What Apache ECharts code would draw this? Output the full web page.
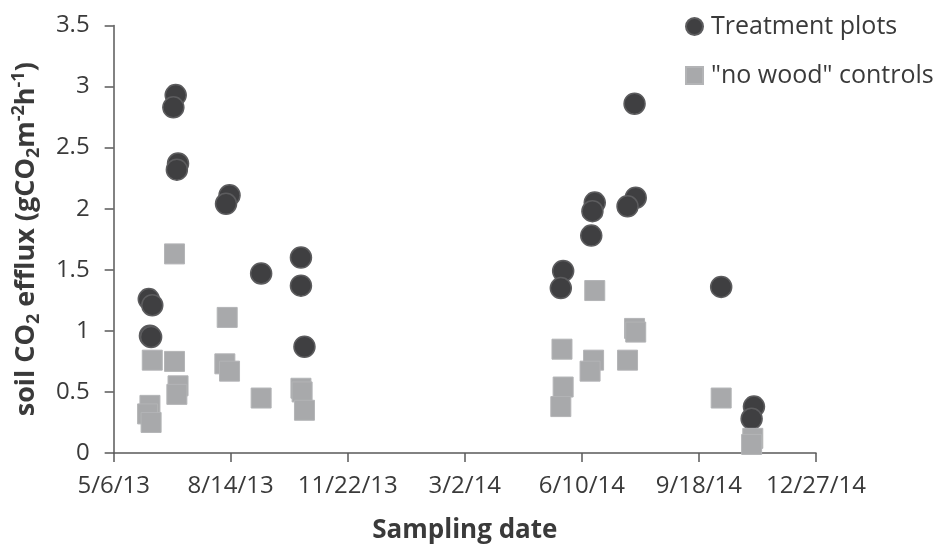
<!DOCTYPE html>
<html>
<head>
<meta charset="utf-8">
<script src="https://cdn.jsdelivr.net/npm/echarts@6/dist/echarts.min.js"></script>
<style>
  html, body { margin: 0; padding: 0; background: #ffffff; }
  #chart { width: 944px; height: 552px; }
</style>
</head>
<body>
<div id="chart"></div>
<script>
// ---- data ----
const xTickLabels = ['5/6/13', '8/14/13', '11/22/13', '3/2/14', '6/10/14', '9/18/14', '12/27/14'];

const treatmentDates = [
  '2013-06-28', '2013-06-26', '2013-06-30', '2013-06-29', '2013-08-13', '2013-08-10',
  '2013-06-05', '2013-06-08', '2013-06-06', '2013-06-07', '2013-09-09', '2013-10-13',
  '2013-10-13', '2013-10-16', '2014-07-25', '2014-06-21', '2014-06-19', '2014-07-26',
  '2014-07-19', '2014-06-18', '2014-05-25', '2014-05-23', '2014-10-07', '2014-11-04',
  '2014-11-02'
];
const treatmentValues = [
  2.93, 2.83, 2.37, 2.32, 2.11, 2.04,
  1.26, 1.21, 0.96, 0.95, 1.47, 1.60,
  1.37, 0.87, 2.86, 2.05, 1.98, 2.09,
  2.02, 1.78, 1.49, 1.35, 1.36, 0.38,
  0.28
];

const controlDates = [
  '2013-06-27', '2013-08-11', '2013-06-08', '2013-06-27', '2013-08-09', '2013-08-13',
  '2013-06-30', '2013-06-29', '2013-06-06', '2013-06-04', '2013-06-07', '2013-09-09',
  '2013-10-13', '2013-10-14', '2013-10-16', '2014-06-21', '2014-07-25', '2014-07-26',
  '2014-05-24', '2014-06-20', '2014-06-17', '2014-07-19', '2014-05-25', '2014-05-23',
  '2014-10-07', '2014-11-03', '2014-11-02'
];
const controlValues = [
  1.63, 1.11, 0.76, 0.75, 0.73, 0.67,
  0.55, 0.48, 0.39, 0.32, 0.25, 0.45,
  0.53, 0.50, 0.35, 1.33, 1.02, 0.99,
  0.85, 0.76, 0.67, 0.76, 0.54, 0.38,
  0.45, 0.12, 0.07
];

const seriesNames = ['Treatment plots', '"no wood" controls'];

// ---- helpers ----
function toSerial(iso) {
  const p = iso.split('-').map(Number);
  return Math.round((Date.UTC(p[0], p[1] - 1, p[2]) - Date.UTC(1899, 11, 30)) / 86400000);
}
const X_MIN = toSerial('2013-05-06');   // 41400
const X_STEP = 100;
const X_MAX = X_MIN + X_STEP * (xTickLabels.length - 1);

const pairs = (d, v) => d.map((s, i) => [toSerial(s), v[i]]);

const FONT = '"Open Sans", "Noto Sans", sans-serif';
const TXT = '#3a3a3a';
const AX = '#595959';

const chart = echarts.init(document.getElementById('chart'), null, { renderer: 'canvas' });
chart.setOption({
  backgroundColor: '#ffffff',
  animation: false,
  grid: { left: 112, right: 128, top: 25.5, bottom: 99, containLabel: false },
  legend: {
    orient: 'vertical',
    left: 680,
    top: 9,
    itemWidth: 17,
    itemHeight: 17,
    itemGap: 24,
    data: [
      { name: seriesNames[0], icon: 'circle' },
      { name: seriesNames[1], icon: 'rect' }
    ],
    textStyle: { fontFamily: FONT, fontSize: 25, color: TXT, lineHeight: 25, padding: [0, 0, 0, 3] }
  },
  xAxis: {
    type: 'value',
    min: X_MIN,
    max: X_MAX,
    interval: X_STEP,
    splitLine: { show: false },
    axisLine: { show: true, onZero: false, lineStyle: { color: AX, width: 1.5 } },
    axisTick: { show: true, inside: false, length: 9, lineStyle: { color: AX, width: 1.5 } },
    axisLabel: {
      margin: 21,
      fontFamily: FONT, fontSize: 24, color: TXT,
      formatter: v => xTickLabels[Math.round((v - X_MIN) / X_STEP)] || ''
    },
    name: 'Sampling date',
    nameLocation: 'middle',
    nameGap: 65,
    nameTextStyle: { fontFamily: FONT, fontSize: 26, fontWeight: 'bold', color: TXT }
  },
  yAxis: {
    type: 'value',
    min: 0,
    max: 3.5,
    interval: 0.5,
    splitLine: { show: false },
    axisLine: { show: true, lineStyle: { color: AX, width: 1.5 } },
    axisTick: { show: true, inside: false, length: 9, lineStyle: { color: AX, width: 1.5 } },
    axisLabel: { margin: 24, fontFamily: FONT, fontSize: 24, color: TXT },
    name: '{n|soil CO}{sub|2}{n| efflux (gCO}{sub|2}{n|m}{sup|-2}{n|h}{sup|-1}{n|)}',
    nameLocation: 'middle',
    nameGap: 61,
    nameTextStyle: {
      fontFamily: FONT, fontSize: 27, fontWeight: 'bold', color: TXT,
      rich: {
        n: { fontFamily: FONT, fontSize: 27, fontWeight: 'bold', color: TXT, lineHeight: 37, verticalAlign: 'middle' },
        sub: { fontFamily: FONT, fontSize: 18, fontWeight: 'bold', color: TXT, lineHeight: 37, verticalAlign: 'bottom', padding: [0, 0, 2, 0] },
        sup: { fontFamily: FONT, fontSize: 18, fontWeight: 'bold', color: TXT, lineHeight: 37, verticalAlign: 'top', padding: [2, 0, 0, 0] }
      }
    }
  },
  series: [
    {
      name: seriesNames[0],
      type: 'scatter',
      symbol: 'circle',
      symbolSize: 21,
      data: pairs(treatmentDates, treatmentValues),
      itemStyle: { color: '#3f3f41', borderColor: '#5c5c5e', borderWidth: 1.5, opacity: 1 }
    },
    {
      name: seriesNames[1],
      type: 'scatter',
      symbol: 'rect',
      symbolSize: 20,
      data: pairs(controlDates, controlValues),
      itemStyle: { color: '#a8a9ab', borderColor: '#b3b4b6', borderWidth: 1, opacity: 1 }
    }
  ]
});
</script>
</body>
</html>
